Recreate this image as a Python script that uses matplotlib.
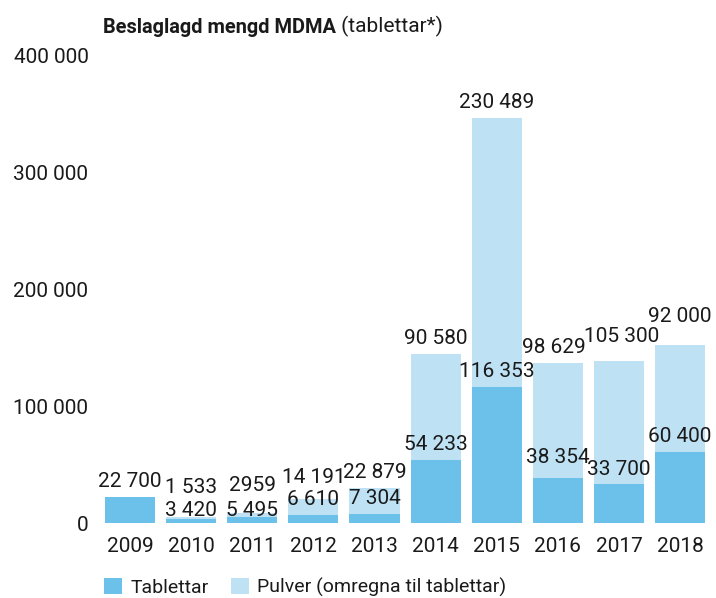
import matplotlib.pyplot as plt
import matplotlib.patches as mpatch

plt.rcParams['font.family'] = ['Roboto', 'DejaVu Sans']

years = ['2009', '2010', '2011', '2012', '2013', '2014', '2015', '2016', '2017', '2018']
tablettar = [22700, 3420, 5495, 6610, 7304, 54233, 116353, 38354, 33700, 60400]
pulver = [0, 1533, 2959, 14191, 22879, 90580, 230489, 98629, 105300, 92000]
tab_labels = ['22 700', '3 420', '5 495', '6 610', '7 304', '54 233', '116 353', '38 354', '33 700', '60 400']
pul_labels = ['', '1 533', '2959', '14 191', '22 879', '90 580', '230 489', '98 629', '105 300', '92 000']
yticks = [0, 100000, 200000, 300000, 400000]
ytick_labels = ['0', '100 000', '200 000', '300 000', '400 000']

# small nudges (pixels) so labels don't collide, like the original
tab_dy = [0, -7, -9, 0, 0, 0, 0, 5, -1, 0]
pul_dy = [0, 14, 12, 6, 0, 0, 0, 0, 9, 13]
pul_dx = [0, 0, 0, 0, 0, 0, 0, -4, 3, 0]

dark = '#6cc1ea'
light = '#bee1f4'
txt = '#1a1a1a'

fig = plt.figure(figsize=(7.16, 5.98), dpi=100)
ax = fig.add_axes([0.139, 0.1254, 0.8534, 0.781])

x = range(len(years))
ax.bar(x, tablettar, width=0.82, color=dark)
ax.bar(x, pulver, width=0.82, bottom=tablettar, color=light)

for i in x:
    ax.annotate(tab_labels[i], xy=(i, tablettar[i]), xytext=(0, 6 + tab_dy[i]),
                textcoords='offset pixels', ha='center', va='bottom', fontsize=15, color=txt)
    if pulver[i] > 0:
        ax.annotate(pul_labels[i], xy=(i, tablettar[i] + pulver[i]),
                    xytext=(pul_dx[i], 6 + pul_dy[i]),
                    textcoords='offset pixels', ha='center', va='bottom', fontsize=15, color=txt)

ax.set_xlim(-0.5, len(years) - 0.5)
ax.set_ylim(0, 400000)
ax.set_xticks(list(x))
ax.set_xticklabels(years)
ax.set_yticks(yticks)
ax.set_yticklabels(ytick_labels)
ax.tick_params(axis='both', length=0, labelsize=15, colors=txt)
ax.tick_params(axis='y', pad=8)
ax.tick_params(axis='x', pad=10)
for s in ax.spines.values():
    s.set_visible(False)

t1 = fig.text(103 / 716, 1 - 33 / 598, 'Beslaglagd mengd MDMA', fontsize=14.4,
              fontweight='bold', color=txt, va='baseline')
ax.annotate(' (tablettar*)', xy=(1, 0), xycoords=t1, va='bottom', ha='left',
            fontsize=15, color=txt, annotation_clip=False)

fig.legend([mpatch.Rectangle((0, 0), 1, 1, fc=dark),
            mpatch.Rectangle((0, 0), 1, 1, fc=light)],
           ['Tablettar', 'Pulver (omregna til tablettar)'],
           loc='lower left', bbox_to_anchor=(103 / 716, 0.0), ncol=2, frameon=False,
           fontsize=14, handlelength=0.95, handleheight=0.95, handletextpad=0.4,
           columnspacing=1.15, borderpad=0.05, borderaxespad=0, labelcolor=txt)

fig.savefig('out.png', dpi=100)
